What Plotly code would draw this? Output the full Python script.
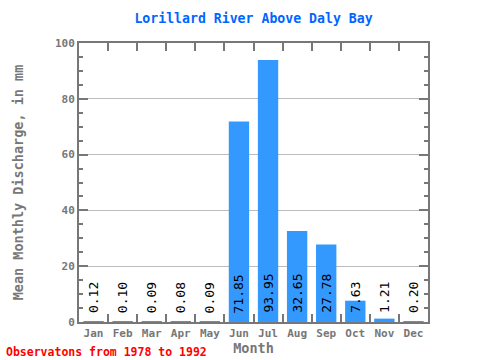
import plotly.graph_objects as go

months = ["Jan", "Feb", "Mar", "Apr", "May", "Jun", "Jul", "Aug", "Sep", "Oct", "Nov", "Dec"]
values = [0.12, 0.10, 0.09, 0.08, 0.09, 71.85, 93.95, 32.65, 27.78, 7.63, 1.21, 0.20]
labels = ["%.2f" % v for v in values]

font_mono = "DejaVu Sans Mono"
gray = "#777777"

fig = go.Figure()
fig.add_trace(go.Bar(x=months, y=values, marker=dict(color="#3399ff", line=dict(width=0)),
                     width=0.7, hoverinfo="skip"))

for m, lab in zip(months, labels):
    fig.add_annotation(x=m, y=0, text=lab, textangle=-90, showarrow=False,
                       yanchor="bottom", yshift=7,
                       font=dict(family=font_mono, size=13, color="black"))

fig.update_layout(
    width=480, height=360,
    margin=dict(l=79, r=52, t=43, b=38, autoexpand=False),
    plot_bgcolor="white", paper_bgcolor="white",
    showlegend=False,
    title=dict(text="<b>Lorillard River Above Daly Bay</b>", x=0.5, xanchor="center",
               xref="paper",
               y=1 - 18 / 360, yanchor="middle", yref="container",
               font=dict(family=font_mono, size=13.2, color="#0066ff")),
)
fig.update_xaxes(
    type="category", tickson="boundaries", ticks="inside", ticklen=8, tickwidth=2,
    tickcolor=gray, showline=True, linecolor=gray, linewidth=2, mirror="ticks",
    tickangle=0, automargin=False,
    tickfont=dict(family=font_mono, size=11, color=gray, weight="bold"),
    title=dict(text="<b>Month</b>", font=dict(family=font_mono, size=13.5, color=gray), standoff=4),
    showgrid=False, range=[-0.5, 11.5],
)
fig.update_yaxes(
    range=[0, 100], tickvals=[0, 20, 40, 60, 80, 100], ticks="inside", ticklen=9, tickwidth=2,
    tickcolor=gray, showline=True, linecolor=gray, linewidth=2, mirror="ticks",
    automargin=False,
    minor=dict(dtick=5, ticks="inside", ticklen=4, tickwidth=2, tickcolor=gray, showgrid=False),
    showgrid=True, gridcolor="#bbbbbb", gridwidth=1, zeroline=False,
    tickfont=dict(family=font_mono, size=11, color=gray, weight="bold"),
    title=dict(text="<b>Mean Monthly Discharge, in mm</b>",
               font=dict(family=font_mono, size=13.5, color=gray), standoff=28),
)
fig.add_annotation(x=0, xref="paper", xanchor="left", xshift=-75, y=0, yref="paper",
                   yshift=-30, yanchor="middle",
                   text="<b>Observatons from 1978 to 1992</b>", showarrow=False,
                   font=dict(family=font_mono, size=11.5, color="red"))

fig.write_html("out.html", config={"displayModeBar": False},
               post_script="document.body.style.margin='0';")
